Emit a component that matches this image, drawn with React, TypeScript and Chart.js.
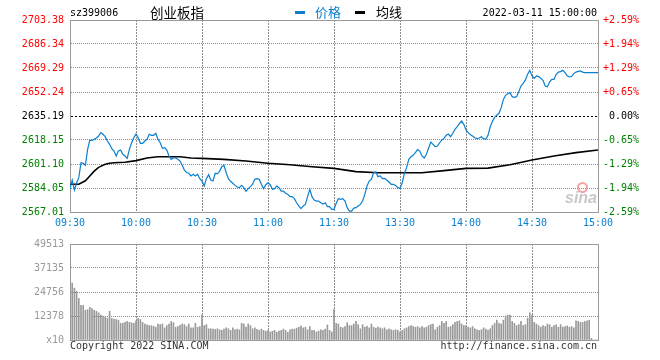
import React, { useEffect, useRef } from "react";
import { Chart, registerables } from "chart.js";

Chart.register(...registerables);

// ---- data ----
const minuteTicks = [0, 30, 60, 90, 120, 150, 180, 210, 240];
const minuteLabels = ["09:30", "10:00", "10:30", "11:00", "11:30", "13:30", "14:00", "14:30", "15:00"];

const priceTicks = [2567.01, 2584.05, 2601.1, 2618.15, 2635.19, 2652.24, 2669.29, 2686.34, 2703.38];
const priceTickLabels = ["2567.01", "2584.05", "2601.10", "2618.15", "2635.19", "2652.24", "2669.29", "2686.34", "2703.38"];
const pctTickLabels = ["-2.59%", "-1.94%", "-1.29%", "-0.65%", "0.00%", "+0.65%", "+1.29%", "+1.94%", "+2.59%"];

const volTicks = [0, 12378, 24756, 37135, 49513];
const volTickLabels = ["x10", "12378", "24756", "37135", "49513"];

// one price per minute, 09:30 .. 11:30, 13:01 .. 15:00
const prices = [
  2583.6, 2589.7, 2582.6, 2587.8, 2591.4, 2602.0, 2601.6, 2600.2, 2611.5, 2617.9,
  2617.9, 2618.6, 2619.6, 2621.0, 2623.4, 2622.2, 2620.5, 2617.4, 2615.1, 2612.0,
  2610.3, 2606.8, 2610.3, 2611.0, 2608.0, 2606.8, 2605.1, 2611.5, 2616.2, 2619.8,
  2622.4, 2619.8, 2615.8, 2615.8, 2617.4, 2618.6, 2622.2, 2621.5, 2621.5, 2622.9,
  2618.6, 2616.2, 2612.2, 2612.7, 2611.0, 2606.8, 2604.4, 2605.4, 2605.4, 2604.4,
  2603.2, 2600.2, 2596.8, 2595.0, 2594.5, 2592.6, 2593.8, 2592.6, 2593.8, 2590.7,
  2588.9, 2585.5, 2590.7, 2593.5, 2589.7, 2589.0, 2594.5, 2594.2, 2595.9, 2599.2,
  2600.2, 2594.9, 2590.7, 2588.8, 2587.4, 2585.9, 2584.8, 2584.3, 2585.9, 2584.3,
  2581.7, 2583.6, 2585.0, 2586.7, 2590.2, 2590.7, 2590.2, 2586.7, 2583.6, 2586.4,
  2587.8, 2586.4, 2583.1, 2583.6, 2585.5, 2584.3, 2581.9, 2581.9, 2580.3, 2579.5,
  2577.9, 2577.9, 2576.5, 2573.6, 2571.3, 2569.4, 2571.3, 2572.4, 2577.9, 2583.1,
  2577.9, 2575.5, 2574.8, 2574.8, 2573.6, 2572.7, 2573.6, 2570.8, 2570.8, 2568.9,
  2568.9, 2573.2, 2576.5, 2576.0, 2576.5, 2574.8, 2570.1, 2567.7, 2567.7, 2569.8,
  2570.1, 2571.3, 2572.4, 2574.8, 2579.5, 2585.5, 2589.0, 2590.2, 2594.9, 2595.4,
  2592.1, 2592.6, 2590.7, 2590.9, 2589.7, 2588.3, 2586.7, 2586.7, 2585.9, 2584.3,
  2583.8, 2587.8, 2594.5, 2598.5, 2604.4, 2606.3, 2607.3, 2609.2, 2611.3, 2610.3,
  2606.8, 2605.4, 2608.0, 2612.5, 2616.7, 2615.1, 2613.4, 2613.9, 2616.2, 2618.1,
  2619.3, 2621.5, 2622.4, 2620.5, 2622.9, 2625.7, 2627.6, 2629.7, 2631.6, 2629.3,
  2625.3, 2623.4, 2621.9, 2621.0, 2619.8, 2619.1, 2619.6, 2620.5, 2619.1, 2618.6,
  2621.5, 2627.4, 2631.4, 2634.2, 2635.7, 2637.1, 2641.1, 2647.0, 2649.9, 2651.0,
  2651.8, 2648.9, 2648.5, 2648.9, 2652.5, 2656.5, 2658.4, 2660.8, 2664.8, 2667.6,
  2663.7, 2662.0, 2663.7, 2663.2, 2662.0, 2660.6, 2656.5, 2656.0, 2659.3, 2661.2,
  2661.2, 2664.8, 2666.4, 2666.7, 2667.6, 2666.0, 2663.7, 2662.9, 2663.2, 2665.3,
  2666.4, 2666.9, 2667.2, 2666.4, 2666.0, 2666.0, 2666.0, 2666.0, 2666.0, 2666.0,
  2666.0,
];

const avgMinutes = [0, 4, 7, 9, 11, 13, 16, 18, 20, 25, 30, 35, 40, 45, 50, 55, 60, 70, 80, 90, 100, 110, 120, 130, 140, 150, 160, 170, 180, 190, 200, 210, 220, 230, 240];
const avgValues = [
  2586.7, 2586.7, 2589.2, 2592.6, 2596.0, 2598.7, 2600.9, 2601.6, 2602.0, 2602.3,
  2603.5, 2605.4, 2606.3, 2606.3, 2606.3, 2605.4, 2605.1, 2604.4, 2603.2, 2601.6,
  2600.6, 2599.2, 2598.0, 2595.7, 2594.9, 2594.9, 2594.9, 2596.4, 2598.0, 2598.2,
  2600.6, 2603.9, 2606.8, 2609.2, 2611.1,
];

const volumes = [
  49513, 29370, 26730, 25080, 21450, 17820, 17820, 15350, 15680, 16830,
  16170, 15350, 14850, 14030, 12870, 12380, 11880, 11220, 14850, 11060,
  10730, 10560, 10230, 8580, 8580, 9080, 9570, 9080, 8910, 8580,
  9900, 11220, 10560, 9080, 8250, 7760, 7430, 7430, 7100, 6600,
  8250, 7920, 8250, 6270, 7430, 8250, 9570, 8910, 6600, 6930,
  7590, 8250, 7920, 6930, 8250, 6270, 6270, 8580, 6600, 6930,
  12870, 7430, 7920, 5780, 5780, 5610, 5450, 5780, 5280, 4950,
  5610, 6270, 5780, 4950, 6270, 5280, 5610, 5280, 8580, 8250,
  6600, 8250, 7430, 5780, 6270, 5450, 4950, 5610, 4950, 4460,
  4950, 4130, 4460, 4950, 3960, 4620, 4950, 5610, 4950, 3960,
  5280, 5610, 5610, 6110, 6600, 7260, 6270, 6600, 5280, 6930,
  4950, 4950, 4130, 4620, 5280, 4950, 5610, 7760, 4950, 4130,
  15680, 8580, 8250, 6600, 6270, 6930, 8910, 7430, 7430, 8250,
  9570, 7920, 5780, 7920, 6600, 7100, 6270, 8250, 6600, 6110,
  6600, 6270, 5780, 6270, 5280, 5780, 5280, 4950, 5280, 4950,
  4130, 4950, 5780, 6270, 6930, 7430, 6930, 6600, 6930, 6270,
  6930, 6270, 6600, 7430, 7920, 8250, 5280, 6600, 7430, 9570,
  8580, 9570, 6600, 6930, 7920, 9080, 9570, 9900, 8250, 7430,
  7430, 6600, 6270, 6930, 5780, 5280, 4950, 5280, 6270, 5610,
  4950, 5780, 7430, 8580, 10230, 8580, 8250, 10230, 12380, 12870,
  12870, 9570, 8580, 7430, 7920, 9570, 7430, 7920, 11220, 14030,
  12870, 9080, 8250, 7430, 6600, 7430, 6930, 8250, 7920, 6600,
  7430, 7920, 6600, 7920, 6600, 6930, 7260, 6600, 6930, 6270,
  9900, 9570, 9080, 9080, 9570, 9900, 10230, 825, 0, 0,
  0,
];

// ---- styles ----
const MONO = "'DejaVu Sans Mono', 'Liberation Mono', monospace";
const CJK = "'Noto Sans CJK SC', sans-serif";
const GRID = "#8c8c8c";
const FRAME = "#999999";
const BLUE = "#0a7fd0";
const UP = "#ff0000";
const DOWN = "#008000";

const priceColor = (i: number) => (i < 4 ? DOWN : i === 4 ? "#000000" : UP);

export default function App() {
  const mainRef = useRef<HTMLCanvasElement>(null);
  const volRef = useRef<HTMLCanvasElement>(null);

  useEffect(() => {
    const font = { family: MONO, size: 10 };
    const lastX = minuteTicks.length - 1;
    const lastP = priceTicks.length - 1;
    const lastV = volTicks.length - 1;

    const xGridColor = (c: any) => (c.index === 0 || c.index === lastX ? FRAME : GRID);
    const xGridDash = (c: any) => (c.index === 0 || c.index === lastX ? [] : [2, 1]);

    const main = new Chart(mainRef.current as HTMLCanvasElement, {
      type: "line",
      data: {
        datasets: [
          {
            label: "价格",
            data: prices.map((y, i) => ({ x: i, y })),
            borderColor: BLUE,
            borderWidth: 1.2,
            pointRadius: 0,
            tension: 0,
            order: 0,
          },
          {
            label: "均线",
            data: avgMinutes.map((x, i) => ({ x, y: avgValues[i] })),
            borderColor: "#000000",
            borderWidth: 1.6,
            pointRadius: 0,
            tension: 0,
            order: 1,
          },
        ],
      },
      options: {
        animation: false,
        responsive: false,
        devicePixelRatio: 1,
        events: [],
        layout: { padding: { top: 20, right: 21, left: 0, bottom: 0 } },
        plugins: { legend: { display: false }, tooltip: { enabled: false } },
        scales: {
          x: {
            type: "linear",
            min: 0,
            max: 240,
            afterBuildTicks: (s: any) => {
              s.ticks = minuteTicks.map((v) => ({ value: v }));
            },
            afterFit: (s: any) => {
              s.height = 20;
            },
            ticks: {
              autoSkip: false,
              maxRotation: 0,
              padding: 5,
              color: BLUE,
              font,
              callback: (_v: any, i: number) => minuteLabels[i],
            },
            grid: { display: true, drawOnChartArea: true, drawTicks: false, lineWidth: 1, color: xGridColor },
            border: { display: true, color: FRAME, width: 1, dash: xGridDash },
          },
          y: {
            type: "linear",
            position: "left",
            min: priceTicks[0],
            max: priceTicks[lastP],
            afterBuildTicks: (s: any) => {
              s.ticks = priceTicks.map((v) => ({ value: v }));
            },
            afterFit: (s: any) => {
              s.width = 70;
            },
            ticks: {
              padding: 6,
              font,
              color: (c: any) => priceColor(c.index),
              callback: (_v: any, i: number) => priceTickLabels[i],
            },
            grid: {
              drawTicks: false,
              lineWidth: 1,
              color: (c: any) =>
                c.index === 0 || c.index === lastP ? FRAME : c.index === 4 ? "#000000" : GRID,
            },
            border: {
              display: true,
              color: FRAME,
              width: 1,
              dash: (c: any) =>
                c.index === 0 || c.index === lastP ? [] : c.index === 4 ? [2, 2] : [1, 1],
            },
          },
          y2: {
            type: "linear",
            axis: "y",
            position: "right",
            min: priceTicks[0],
            max: priceTicks[lastP],
            afterBuildTicks: (s: any) => {
              s.ticks = priceTicks.map((v) => ({ value: v }));
            },
            afterFit: (s: any) => {
              s.width = 41;
            },
            ticks: {
              padding: 0,
              crossAlign: "far",
              font,
              color: (c: any) => priceColor(c.index),
              callback: (_v: any, i: number) => pctTickLabels[i],
            },
            grid: { display: false, drawTicks: false },
            border: { display: true, color: FRAME, width: 1 },
          },
        },
      } as any,
    });

    const vol = new Chart(volRef.current as HTMLCanvasElement, {
      type: "bar",
      data: {
        datasets: [
          {
            label: "成交量",
            data: volumes.map((y, i) => ({ x: i, y })),
            backgroundColor: "#999999",
            borderWidth: 0,
            barThickness: 1,
          },
        ],
      },
      options: {
        animation: false,
        responsive: false,
        devicePixelRatio: 1,
        events: [],
        layout: { padding: { top: 8, right: 62, left: 0, bottom: 0 } },
        plugins: { legend: { display: false }, tooltip: { enabled: false } },
        scales: {
          x: {
            type: "linear",
            min: 0,
            max: 240,
            offset: false,
            afterBuildTicks: (s: any) => {
              s.ticks = minuteTicks.map((v) => ({ value: v }));
            },
            afterFit: (s: any) => {
              s.height = 20;
            },
            ticks: { display: false },
            grid: { display: true, drawOnChartArea: true, offset: false, drawTicks: false, lineWidth: 1, color: xGridColor },
            border: { display: true, color: FRAME, width: 1, dash: xGridDash },
          },
          y: {
            type: "linear",
            position: "left",
            min: 0,
            max: volTicks[lastV],
            afterBuildTicks: (s: any) => {
              s.ticks = volTicks.map((v) => ({ value: v }));
            },
            afterFit: (s: any) => {
              s.width = 70;
            },
            ticks: {
              padding: 6,
              font,
              color: "#999999",
              callback: (_v: any, i: number) => volTickLabels[i],
            },
            grid: {
              drawTicks: false,
              lineWidth: 1,
              color: (c: any) => (c.index === 0 || c.index === lastV ? FRAME : GRID),
            },
            border: {
              display: true,
              color: FRAME,
              width: 1,
              dash: (c: any) => (c.index === 0 || c.index === lastV ? [] : [1, 1]),
            },
          },
        },
      } as any,
    });

    return () => {
      main.destroy();
      vol.destroy();
    };
  }, []);

  const mono: React.CSSProperties = {
    position: "absolute",
    fontFamily: MONO,
    fontSize: 10,
    lineHeight: "12px",
    whiteSpace: "nowrap",
    color: "#000",
  };
  const cjk: React.CSSProperties = {
    position: "absolute",
    fontFamily: CJK,
    fontSize: 13,
    lineHeight: "16px",
    whiteSpace: "nowrap",
    color: "#000",
  };

  return (
    <div
      style={{
        position: "fixed",
        left: 0,
        top: 0,
        width: 660,
        height: 360,
        background: "#fff",
        overflow: "hidden",
      }}
    >
      <canvas
        ref={mainRef}
        width={660}
        height={232}
        style={{ position: "absolute", left: 0, top: 0, width: 660, height: 232 }}
      />
      <canvas
        ref={volRef}
        width={660}
        height={128}
        style={{ position: "absolute", left: 0, top: 232, width: 660, height: 128 }}
      />
      <div style={{ ...mono, left: 70, top: 7 }}>sz399006</div>
      <div style={{ ...cjk, left: 150, top: 4, fontSize: 13.5 }}>创业板指</div>
      <div style={{ position: "absolute", left: 295, top: 11, width: 10, height: 3, background: BLUE }} />
      <div style={{ ...cjk, left: 315, top: 4, color: BLUE }}>价格</div>
      <div style={{ position: "absolute", left: 355, top: 11, width: 10, height: 3, background: "#000" }} />
      <div style={{ ...cjk, left: 376, top: 4 }}>均线</div>
      <div style={{ ...mono, right: 63, top: 7 }}>2022-03-11 15:00:00</div>
      <div style={{ ...mono, left: 70, top: 340, color: "#333" }}>Copyright 2022 SINA.COM</div>
      <div style={{ ...mono, right: 63, top: 340, color: "#333" }}>http://finance.sina.com.cn</div>
      <div
        style={{
          position: "absolute",
          left: 577,
          top: 182,
          width: 7,
          height: 7,
          borderRadius: "50%",
          border: "2px solid #f2a3a3",
        }}
      />
      <div
        style={{
          position: "absolute",
          left: 565,
          top: 189,
          fontFamily: "'Liberation Sans', Arial, sans-serif",
          fontSize: 16,
          fontWeight: "bold",
          fontStyle: "italic",
          lineHeight: "18px",
          color: "#c8c8c8",
        }}
      >
        sina
      </div>
    </div>
  );
}
